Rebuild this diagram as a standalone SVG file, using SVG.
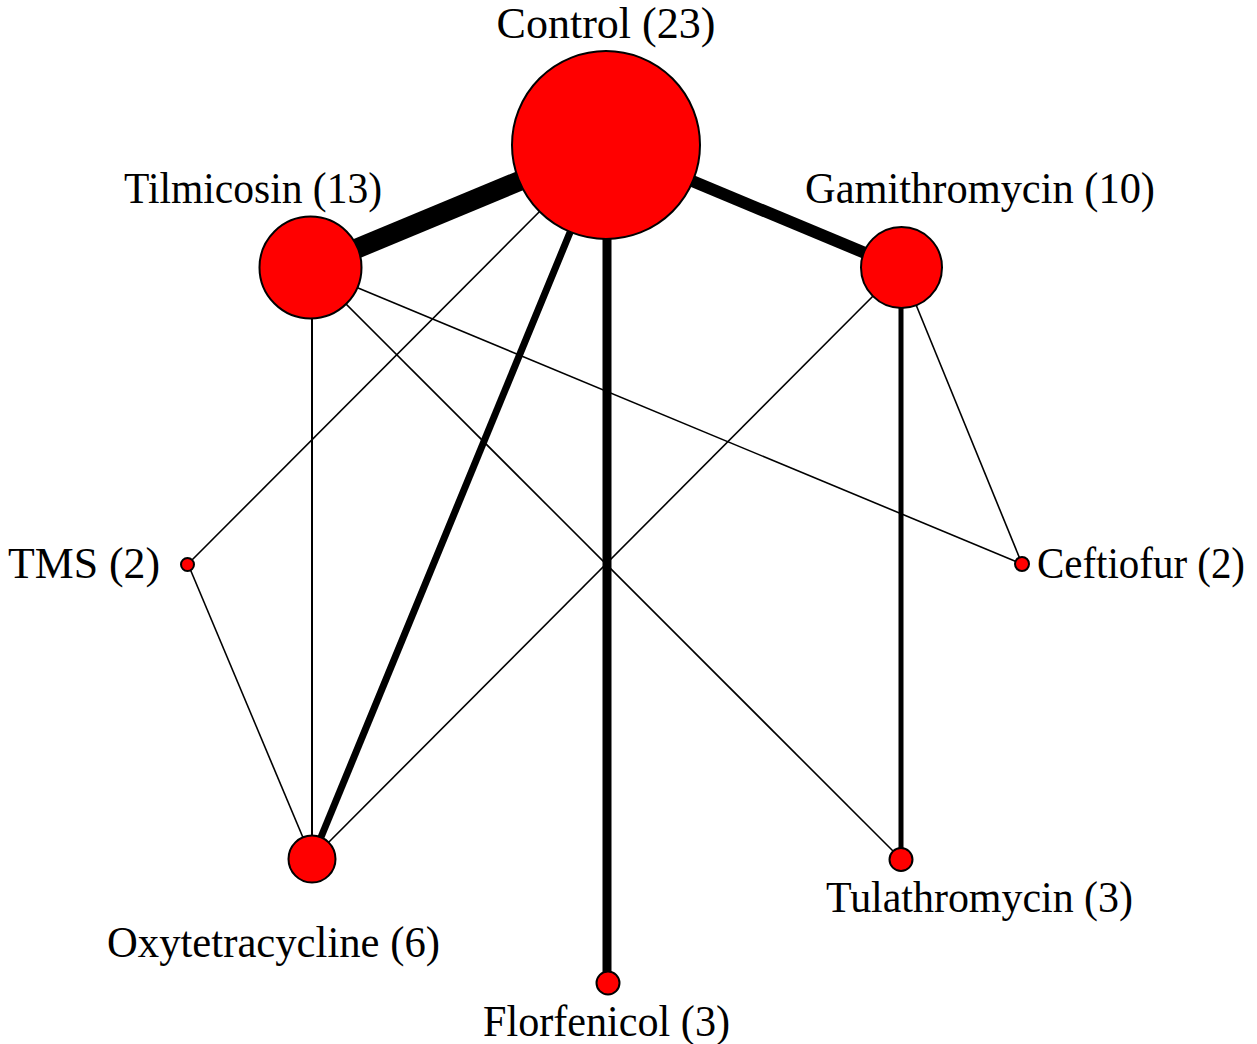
<svg xmlns="http://www.w3.org/2000/svg" width="1257" height="1044" viewBox="0 0 1257 1044">
<style>
.n{fill:#ff0000;stroke:#000;stroke-width:2}
.e{stroke:#000;stroke-linecap:butt;fill:none}
text{font-family:'Liberation Serif','DejaVu Serif',serif;font-size:44px;fill:#000}
</style>
<rect width="1257" height="1044" fill="#fff"/>
<g id="edges">
<line class="e" x1="606" y1="145" x2="310" y2="268" stroke-width="20"/>
<line class="e" x1="606" y1="145" x2="901" y2="268" stroke-width="12"/>
<line class="e" x1="607" y1="145" x2="607" y2="983" stroke-width="9"/>
<line class="e" x1="606" y1="145" x2="312" y2="859" stroke-width="7"/>
<line class="e" x1="606" y1="145" x2="188" y2="564" stroke-width="1.6"/>
<line class="e" x1="901" y1="268" x2="901" y2="859" stroke-width="5"/>
<line class="e" x1="901" y1="268" x2="1022" y2="564" stroke-width="1.6"/>
<line class="e" x1="901" y1="268" x2="312" y2="859" stroke-width="1.6"/>
<line class="e" x1="312" y1="268" x2="312" y2="859" stroke-width="2"/>
<line class="e" x1="310" y1="268" x2="1022" y2="564" stroke-width="1.6"/>
<line class="e" x1="310" y1="268" x2="901" y2="859" stroke-width="1.6"/>
<line class="e" x1="188" y1="564" x2="312" y2="859" stroke-width="1.6"/>
</g>
<g id="node-control"><circle class="n" cx="606" cy="145" r="94"/><text x="606" y="38" text-anchor="middle" textLength="219" lengthAdjust="spacingAndGlyphs">Control (23)</text></g>
<g id="node-tilmicosin"><circle class="n" cx="310.5" cy="267.5" r="51"/><text x="124" y="203" textLength="258" lengthAdjust="spacingAndGlyphs">Tilmicosin (13)</text></g>
<g id="node-gamithromycin"><circle class="n" cx="901.5" cy="267.5" r="40.5"/><text x="805" y="203" textLength="350" lengthAdjust="spacingAndGlyphs">Gamithromycin (10)</text></g>
<g id="node-tms"><circle class="n" cx="187.5" cy="564.5" r="6.5"/><text x="8" y="578" textLength="152" lengthAdjust="spacingAndGlyphs">TMS (2)</text></g>
<g id="node-ceftiofur"><circle class="n" cx="1022" cy="564" r="7"/><text x="1037" y="578" textLength="208" lengthAdjust="spacingAndGlyphs">Ceftiofur (2)</text></g>
<g id="node-oxytetracycline"><circle class="n" cx="312" cy="859" r="23.5"/><text x="107" y="957" textLength="333" lengthAdjust="spacingAndGlyphs">Oxytetracycline (6)</text></g>
<g id="node-tulathromycin"><circle class="n" cx="901" cy="859.5" r="11.5"/><text x="826" y="912" textLength="307" lengthAdjust="spacingAndGlyphs">Tulathromycin (3)</text></g>
<g id="node-florfenicol"><circle class="n" cx="608" cy="983" r="11.5"/><text x="483" y="1036" textLength="247" lengthAdjust="spacingAndGlyphs">Florfenicol (3)</text></g>
</svg>
